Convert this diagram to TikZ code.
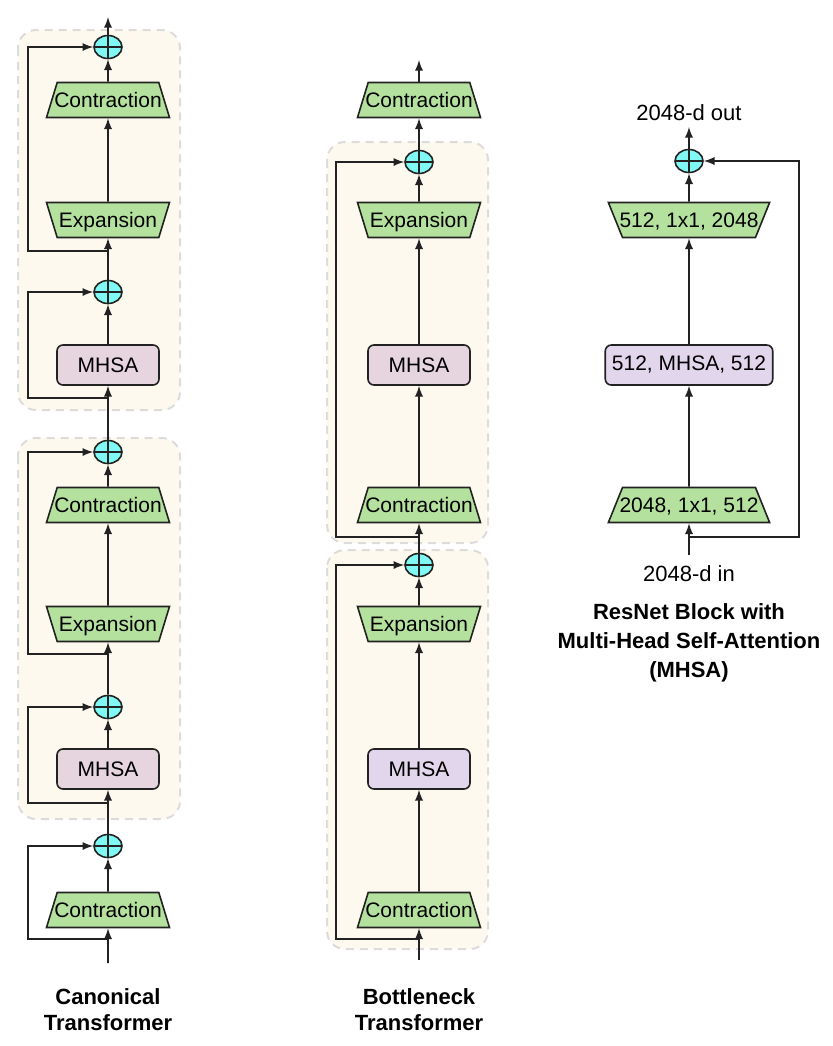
\documentclass[tikz,border=0pt]{standalone}
\usepackage{fontspec}
\setmainfont{Liberation Sans}
\usetikzlibrary{shapes.geometric}
\definecolor{blockgreen}{HTML}{B4E29E}
\definecolor{addcyan}{HTML}{80F8F4}
\definecolor{mhsapink}{HTML}{E6D4DF}
\definecolor{mhsalilac}{HTML}{E2D6EC}
\definecolor{groupfill}{HTML}{FDF9EE}
\definecolor{groupline}{HTML}{DCDCDC}
\definecolor{edgeblack}{HTML}{222222}
\newcommand\blockfont{\fontsize{10.5}{12}\selectfont}
\tikzset{
  contr/.style={trapezium, trapezium left angle=73, trapezium right angle=73,
    trapezium stretches body=true, minimum width=61.5pt,
    text height=8.5pt, text depth=1.5pt, inner ysep=3.75pt,
    inner xsep=-1.5pt, draw=edgeblack, fill=blockgreen,
    line width=0.8pt, font=\blockfont},
  expan/.style={contr, shape border rotate=180},
  contrwide/.style={contr, trapezium left angle=68, trapezium right angle=68, minimum width=80.5pt},
  expanwide/.style={contrwide, shape border rotate=180},
  mhsabox/.style={rectangle, rounded corners=3pt, draw=edgeblack, fill=mhsapink,
    line width=0.8pt, minimum width=51pt, minimum height=20pt, font=\blockfont},
  addnode/.style={ellipse, draw=edgeblack, fill=addcyan, line width=0.8pt,
    minimum width=14pt, minimum height=11.5pt, inner sep=0pt,
    path picture={\draw[line width=0.8pt,edgeblack]
      (path picture bounding box.north) -- (path picture bounding box.south)
      (path picture bounding box.west) -- (path picture bounding box.east);}},
  group/.style={draw=groupline, fill=groupfill, dash pattern=on 4pt off 3pt,
    line width=1pt, rounded corners=9pt},
  flow/.style={->, >=latex, line width=0.85pt, draw=edgeblack},
  iolabel/.style={font=\fontsize{11}{13}\selectfont, inner sep=1pt},
  title/.style={font=\bfseries\fontsize{11}{13}\selectfont, align=center}
}
\begin{document}
\begin{tikzpicture}[x=0.5pt, y=-0.5pt]
\useasboundingbox (0,0) rectangle (832,1046);

% dashed groups
\draw[group] (18,30) rectangle (180,410);
\draw[group] (18,438) rectangle (180,819);
\draw[group] (327,142) rectangle (488,543);
\draw[group] (327,550) rectangle (488,949);

% canonical transformer
\coordinate (cin) at (108,963);
\node[contr] (cpre) at (108,910) {Contraction};
\node[addnode] (caddpre) at (108,846) {};
\node[mhsabox] (cmhsaB) at (108,769) {MHSA};
\node[addnode] (caddB1) at (108,707) {};
\node[expan] (cexpB) at (108,624) {Expansion};
\node[contr] (cctrB) at (108,505) {Contraction};
\node[addnode] (caddB2) at (108,452) {};
\node[mhsabox] (cmhsaA) at (108,365) {MHSA};
\node[addnode] (caddA1) at (108,292) {};
\node[expan] (cexpA) at (108,220) {Expansion};
\node[contr] (cctrA) at (108,100) {Contraction};
\node[addnode] (caddA2) at (108,47) {};
\coordinate (cout) at (108,17);
\coordinate (cj0) at (108,939);
\coordinate (cjB1) at (108,803);
\coordinate (cjB2) at (108,654);
\coordinate (cjA1) at (108,398);
\coordinate (cjA2) at (108,251);
\foreach \a/\b in {cin/cpre, cpre/caddpre, caddpre/cmhsaB, cmhsaB/caddB1, caddB1/cexpB,
    cexpB/cctrB, cctrB/caddB2, caddB2/cmhsaA, cmhsaA/caddA1, caddA1/cexpA,
    cexpA/cctrA, cctrA/caddA2, caddA2/cout}
  \draw[flow] (\a) -- (\b);
\foreach \j/\p in {cj0/caddpre, cjB1/caddB1, cjB2/caddB2, cjA1/caddA1, cjA2/caddA2}
  \draw[flow] (\j) -- ++(-80,0) |- (\p);
\node[title] (ctitle) at (108,1010) {Canonical\\Transformer};

% bottleneck transformer
\coordinate (bin) at (419,960);
\node[contr] (bctrB) at (419,910) {Contraction};
\node[mhsabox, fill=mhsalilac] (bmhsaB) at (419,769) {MHSA};
\node[expan] (bexpB) at (419,624) {Expansion};
\node[addnode] (baddB) at (419,565) {};
\node[contr] (bctrA) at (419,505) {Contraction};
\node[mhsabox, fill=mhsapink] (bmhsaA) at (419,365) {MHSA};
\node[expan] (bexpA) at (419,220) {Expansion};
\node[addnode] (baddA) at (419,162) {};
\node[contr] (btop) at (419,100) {Contraction};
\coordinate (bout) at (419,60);
\coordinate (bjB) at (419,939);
\coordinate (bjA) at (419,537);
\foreach \a/\b in {bin/bctrB, bctrB/bmhsaB, bmhsaB/bexpB, bexpB/baddB, baddB/bctrA,
    bctrA/bmhsaA, bmhsaA/bexpA, bexpA/baddA, baddA/btop, btop/bout}
  \draw[flow] (\a) -- (\b);
\draw[flow] (bjB) -- ++(-83,0) |- (baddB);
\draw[flow] (bjA) -- ++(-83,0) |- (baddA);
\node[title] (btitle) at (419,1010) {Bottleneck\\Transformer};

% resnet block with mhsa
\node[iolabel] (routlabel) at (689,113) {2048-d out};
\coordinate (rout) at (689,127);
\node[addnode] (radd) at (689,161) {};
\node[expanwide] (rexp) at (689,220) {512, 1x1, 2048};
\node[mhsabox, fill=mhsalilac, minimum width=80.5pt] (rmhsa) at (689,365) {512, MHSA, 512};
\node[contrwide] (rctr) at (689,505) {2048, 1x1, 512};
\coordinate (rj) at (689,537);
\coordinate (rin) at (689,555);
\node[iolabel] (rinlabel) at (689,574) {2048-d in};
\foreach \a/\b in {rin/rctr, rctr/rmhsa, rmhsa/rexp, rexp/radd, radd/rout}
  \draw[flow] (\a) -- (\b);
\draw[flow] (rj) -- ++(110,0) |- (radd);
\node[title, font=\bfseries\fontsize{11}{14.5}\selectfont] (rtitle) at (689,643)
  {ResNet Block with\\Multi-Head Self-Attention\\(MHSA)};
\end{tikzpicture}
\end{document}
